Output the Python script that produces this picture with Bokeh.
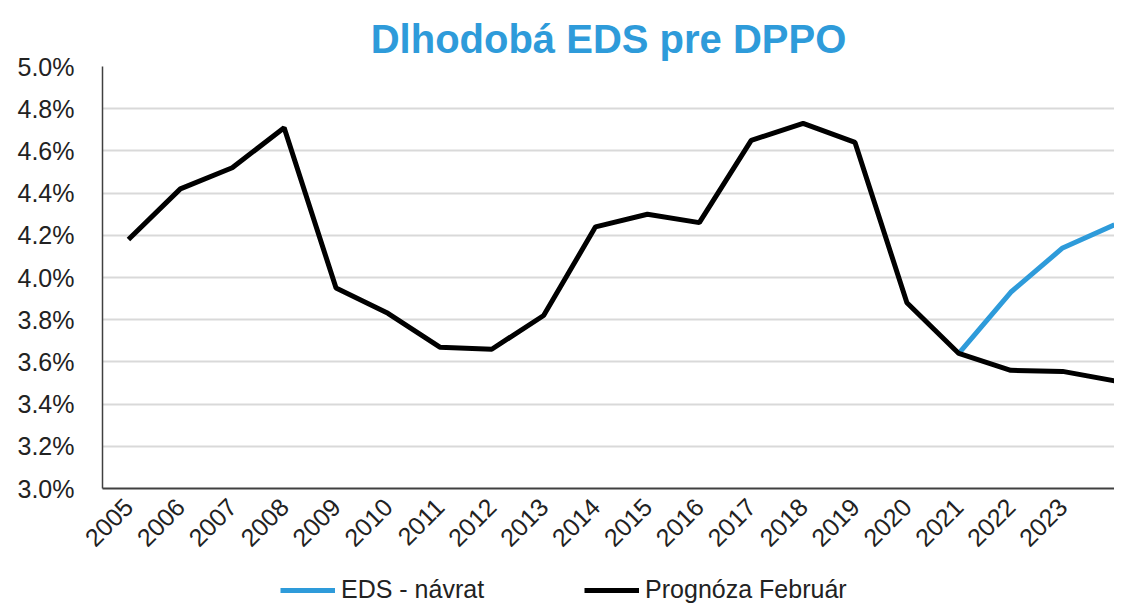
from math import pi
from bokeh.plotting import figure
from bokeh.layouts import column
from bokeh.models import FixedTicker, PrintfTickFormatter, Legend, LegendItem, Title, Range1d
from bokeh.embed import file_html
from bokeh.resources import INLINE

years = list(range(2005, 2025))
prognoza = [4.18, 4.42, 4.52, 4.71, 3.95, 3.83, 3.67, 3.66, 3.82, 4.24,
            4.30, 4.26, 4.65, 4.73, 4.64, 3.88, 3.64, 3.56, 3.555, 3.51]
eds_years = [2021, 2022, 2023, 2024]
eds_navrat = [3.64, 3.93, 4.14, 4.25]
tick_years = list(range(2005, 2024))
y_ticks = [3.0, 3.2, 3.4, 3.6, 3.8, 4.0, 4.2, 4.4, 4.6, 4.8, 5.0]
legend_labels = ["EDS - návrat", "Prognóza Február"]

FONT = "'Liberation Sans Narrow', 'Liberation Sans', Arial, sans-serif"
BLUE = "#2E9BDA"

p = figure(frame_width=1012, frame_height=422, output_backend="svg",
           toolbar_location=None, x_range=Range1d(2004.5, 2024.0),
           y_range=Range1d(3.0, 5.0), min_border_left=102, min_border_right=0,
           min_border_top=66, min_border_bottom=80, outline_line_color=None)

p.title = Title(text="Dlhodobá EDS pre DPPO", align="center",
                text_font=FONT, text_font_size="40px", text_font_style="bold",
                text_color=BLUE, standoff=12)

p.xgrid.visible = False
p.ygrid.grid_line_color = "#D9D9D9"
p.ygrid.grid_line_width = 2

p.yaxis.ticker = FixedTicker(ticks=y_ticks)
p.yaxis.formatter = PrintfTickFormatter(format="%.1f%%")
p.xaxis.ticker = FixedTicker(ticks=tick_years)
for ax in (p.xaxis, p.yaxis):
    ax.major_tick_line_color = None
    ax.minor_tick_line_color = None
    ax.major_label_text_font = FONT
    ax.major_label_text_font_size = "25px"
    ax.major_label_text_color = "#222222"
    ax.axis_line_color = "#404040"
p.xaxis.axis_line_width = 2
p.yaxis.axis_line_width = 1.5
p.xaxis.major_label_orientation = pi / 4
p.yaxis.major_label_standoff = 22
p.xaxis.major_label_standoff = 8

p.line(eds_years, eds_navrat, line_color=BLUE, line_width=5)
p.line(years, prognoza, line_color="#000000", line_width=5)

# legend strip below the chart (its lines lie outside this strip's ranges)
lg = figure(width=1114, height=36, output_backend="svg", toolbar_location=None,
            x_range=Range1d(0, 1), y_range=Range1d(0, 1),
            x_axis_location=None, y_axis_location=None, min_border=0,
            outline_line_color=None, background_fill_alpha=0, border_fill_alpha=0)
lg.grid.visible = False
l_eds = lg.line(eds_years, eds_navrat, line_color=BLUE, line_width=5)
l_prog = lg.line(years, prognoza, line_color="#000000", line_width=5)
legend = Legend(items=[LegendItem(label=legend_labels[0], renderers=[l_eds]),
                       LegendItem(label=legend_labels[1], renderers=[l_prog])],
                orientation="horizontal", location=(178, 0),
                label_text_font=FONT, label_text_font_size="25px",
                label_text_color="#222222", glyph_width=55, glyph_height=28,
                label_standoff=6, spacing=100, border_line_color=None,
                background_fill_alpha=0, padding=0, margin=0)
lg.add_layout(legend)

layout = column(p, lg, spacing=0)
open("out.html", "w").write(file_html(layout, INLINE))
